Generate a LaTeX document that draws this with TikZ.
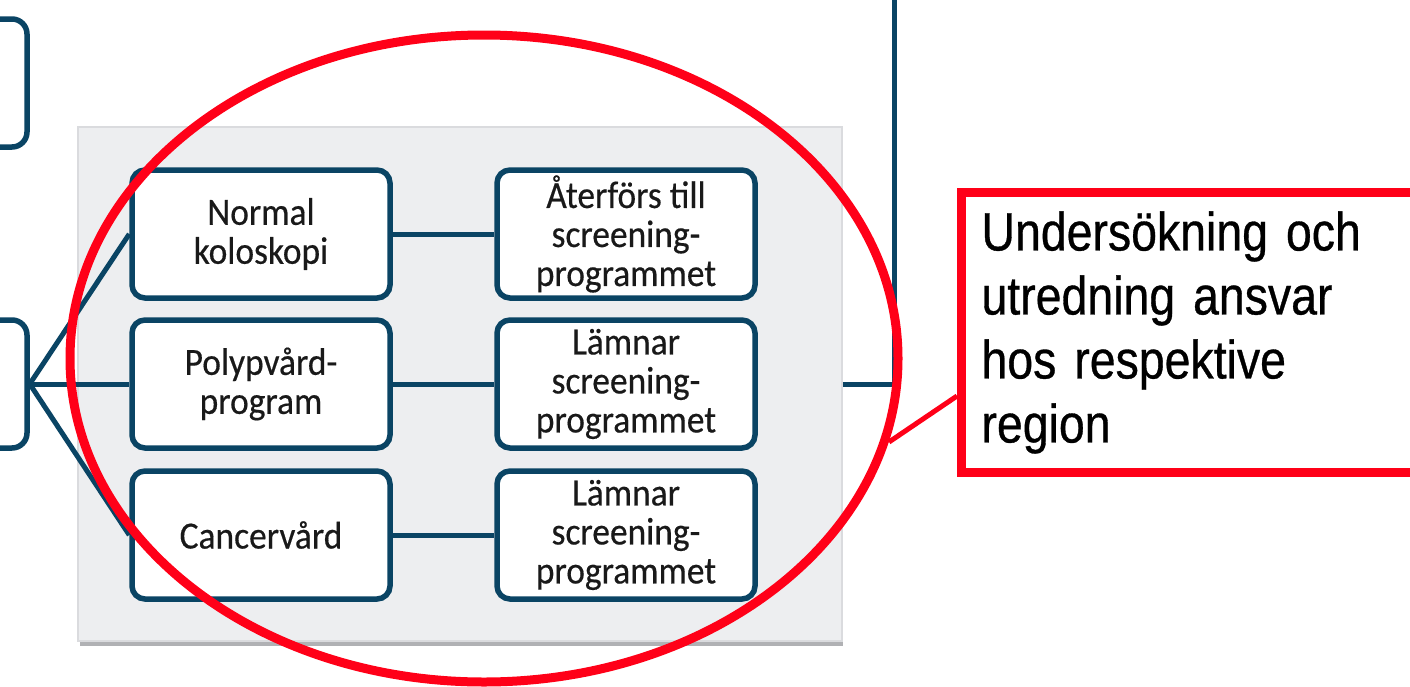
\documentclass[tikz,border=0pt]{standalone}
\usepackage{fontspec}
\setmainfont{Carlito}
\newfontfamily\boxfont[FakeStretch=0.92,FakeBold=0.4]{Carlito}
\newfontfamily\callfont[FakeStretch=0.86,FakeBold=0.6,WordSpace=0.6]{Liberation Sans}
\definecolor{navy}{RGB}{10,68,100}
\definecolor{panelgray}{RGB}{237,238,240}
\definecolor{paneledge}{RGB}{218,219,222}
\definecolor{shadowgray}{RGB}{176,177,180}
\definecolor{markred}{RGB}{255,0,24}
\definecolor{boxtext}{RGB}{25,25,25}
\tikzset{
  flowbox/.style={draw=navy, line width=5.5pt, fill=white, rounded corners=13pt,
    minimum width=258pt, minimum height=128pt, align=center, inner sep=0pt,
    text=boxtext, font=\boxfont\fontsize{38.5}{39}\selectfont},
  sidebox/.style={draw=navy, line width=5.5pt, fill=white, rounded corners=15pt,
    minimum width=90pt, minimum height=128pt, inner sep=0pt},
  link/.style={draw=navy, line width=5pt},
  redmark/.style={draw=markred, line width=9pt},
  calloutbox/.style={draw=markred, line width=9pt, fill=white, align=left,
    text width=460pt, inner xsep=8pt, minimum height=280pt, minimum width=500pt,
    font=\callfont\fontsize{54}{64}\selectfont, text=black}
}
\begin{document}
\begin{tikzpicture}[x=1pt,y=-1pt]
\useasboundingbox (0,0) rectangle (1410,686);
\clip (0,0) rectangle (1410,686);
\fill[white] (0,0) rectangle (1410,686);

% grey panel with shadow
\fill[shadowgray] (80,134) rectangle (843,646);
\node[draw=paneledge, line width=1.5pt, fill=panelgray, minimum width=764pt,
      minimum height=514pt, inner sep=0pt] (panel) at (460,384) {};

% left partial boxes
\node[sidebox] (lb1) at (-18,83) {};
\node[sidebox] (lb2) at (-18,384) {};

% flow boxes
\node[flowbox] (n1) at (261,234) {Normal\\koloskopi};
\node[flowbox] (n2) at (261,384) {Polypvård-\\program};
\node[flowbox] (n3) at (261,535) {Cancervård};
\node[flowbox] (r1) at (626,234) {Återförs till\\screening-\\programmet};
\node[flowbox] (r2) at (626,384) {Lämnar\\screening-\\programmet};
\node[flowbox] (r3) at (626,535) {Lämnar\\screening-\\programmet};

% connectors
\draw[link] (lb2.east) -- (n1.west);
\draw[link] (lb2.east) -- (n2.west);
\draw[link] (lb2.east) -- (n3.west);
\draw[link] (n1.east) -- (r1.west);
\draw[link] (n2.east) -- (r2.west);
\draw[link] (n3.east) -- (r3.west);
\coordinate (topend) at (894,-5);
\draw[link] (panel.east) -- (panel.east -| topend) -- (topend);

% red annotation
\draw[redmark] (484,358.5) ellipse [x radius=414pt, y radius=323.5pt];
\node[calloutbox, anchor=north west] (callout) at (957,188)
  {Undersökning och\\utredning ansvar\\hos respektive\\region};
\coordinate (ellpt) at (889,442);
\coordinate (boxpt) at (957,396);
\draw[markred, line width=5pt] (ellpt) -- (boxpt);
\end{tikzpicture}
\end{document}
